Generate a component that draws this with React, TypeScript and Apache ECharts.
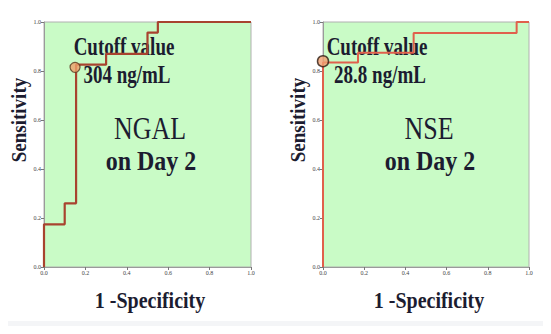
import React, { useEffect, useRef } from "react";
import * as echarts from "echarts";

const tickLabels = ["0.0", "0.2", "0.4", "0.6", "0.8", "1.0"];
const ngalFpr = [0, 0, 0.1, 0.155, 0.3, 0.5, 0.55, 1];
const ngalTpr = [0, 0.174, 0.26, 0.826, 0.87, 0.957, 1, 1];
const nseFpr = [0, 0, 0.17, 0.44, 0.94, 1];
const nseTpr = [0, 0.835, 0.875, 0.955, 1, 1];
const ngalCutoff = [0.15, 0.815];
const nseCutoff = [0, 0.84];
const panels = [
  { marker: "NGAL", cutoff: "304 ng/mL" },
  { marker: "NSE", cutoff: "28.8 ng/mL" },
];
const xTitle = "1 -Specificity";
const yTitle = "Sensitivity";

const SERIF = "'Liberation Serif', 'DejaVu Serif', serif";
const TEXT = "#1c1c30";

export default function App() {
  const ref = useRef<HTMLDivElement>(null);
  useEffect(() => {
    if (!ref.current) return;
    const chart = echarts.init(ref.current, undefined, { renderer: "svg" });
    const axisCommon = (gi: number) => ({
      gridIndex: gi,
      type: "value" as const,
      min: 0,
      max: 1,
      interval: 0.2,
      axisLine: { show: true, lineStyle: { color: "#9a9a9a", width: 1 } },
      axisTick: { show: true, length: 3, lineStyle: { color: "#777" } },
      splitLine: { show: false },
      axisLabel: {
        fontSize: 6,
        color: "#444",
        fontFamily: SERIF,
        margin: 3,
        formatter: (v: number) => tickLabels[Math.round(v * 5)],
      },
    });
    const toPairs = (xs: number[], ys: number[]) => xs.map((x, i) => [x, ys[i]]);
    const grids = [
      { left: 44, right: 300, top: 22, bottom: 67 },
      { left: 323, right: 22, top: 22, bottom: 67 },
    ].map((g) => ({
      ...g,
      show: true,
      backgroundColor: "#c9fbc6",
      borderColor: "#b0b0b0",
      borderWidth: 1,
    }));
    const centers = [148, 427];
    const labelX = [19, 298];
    const graphic: any[] = [];
    const txt = (text: string, x: number, y: number, font: string, sy: number, rot = 0) => ({
      type: "text",
      x,
      y,
      rotation: rot,
      scaleY: sy,
      style: { text, font, fill: TEXT, align: "center", verticalAlign: "middle" },
    });
    panels.forEach((p, i) => {
      const cx = centers[i];
      graphic.push(
        txt("Cutoff value", i === 0 ? 124 : 377, 47, `bold 19px ${SERIF}`, 1.3),
        txt(p.cutoff, i === 0 ? 127 : 380, 75, `bold 19px ${SERIF}`, 1.3),
        txt(p.marker, cx + 2, 128, `26px ${SERIF}`, 1.2),
        txt("on Day 2", cx + 3, 161, `bold 24px ${SERIF}`, 1.15),
        txt(xTitle, cx + 2, 300, `bold 20px ${SERIF}`, 1.2),
        txt(yTitle, labelX[i], 120, `bold 19px ${SERIF}`, 1.15, Math.PI / 2)
      );
    });
    graphic.push({
      type: "rect",
      shape: { x: 6, y: 321, width: 545, height: 13 },
      style: { fill: "#f4f5f7" },
    });
    chart.setOption({
      animation: false,
      grid: grids,
      xAxis: [axisCommon(0), axisCommon(1)],
      yAxis: [axisCommon(0), axisCommon(1)],
      series: [
        {
          type: "line",
          xAxisIndex: 0,
          yAxisIndex: 0,
          step: "end",
          symbol: "none",
          data: toPairs(ngalFpr, ngalTpr),
          lineStyle: { color: "#a8432f", width: 2.2 },
          z: 3,
        },
        {
          type: "line",
          xAxisIndex: 1,
          yAxisIndex: 1,
          step: "end",
          symbol: "none",
          data: toPairs(nseFpr, nseTpr),
          lineStyle: { color: "#e0604c", width: 2 },
          z: 3,
        },
        {
          type: "scatter",
          xAxisIndex: 0,
          yAxisIndex: 0,
          symbolSize: 10,
          data: [ngalCutoff],
          itemStyle: { color: "#eea06a", borderColor: "#5a3a20", borderWidth: 1.2 },
          z: 4,
        },
        {
          type: "scatter",
          xAxisIndex: 1,
          yAxisIndex: 1,
          symbolSize: 11,
          data: [nseCutoff],
          itemStyle: { color: "#f0a070", borderColor: "#2a1a10", borderWidth: 1.5 },
          z: 4,
        },
      ],
      graphic,
    });
    return () => chart.dispose();
  }, []);
  return <div ref={ref} style={{ width: 551, height: 334, margin: -8 }} />;
}
